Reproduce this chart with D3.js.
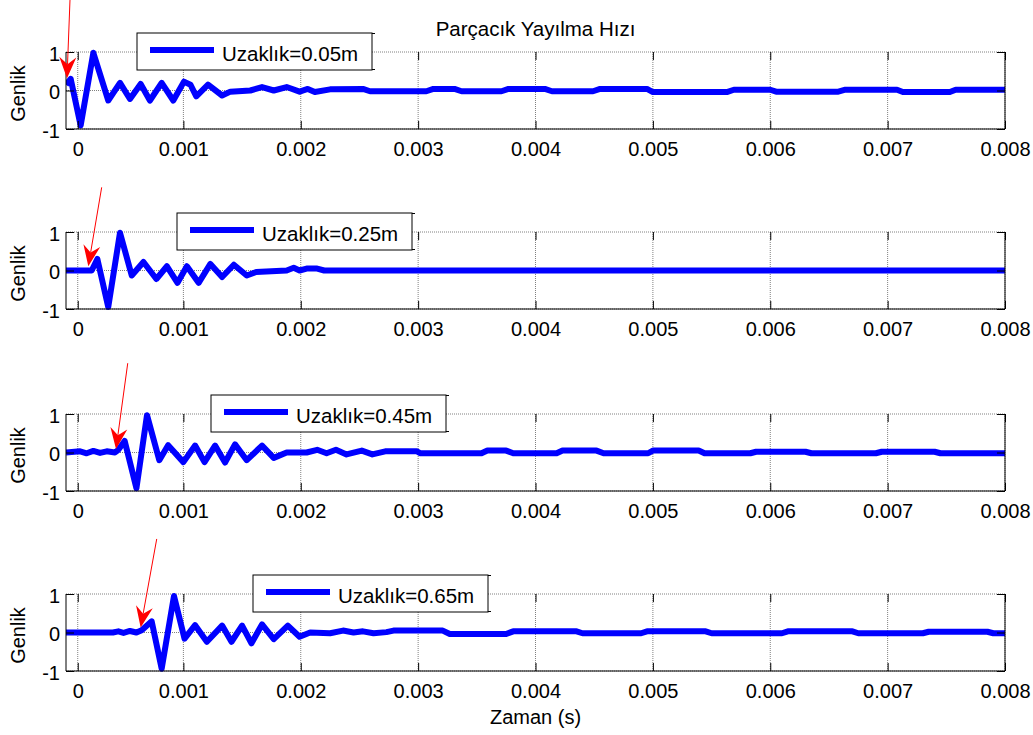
<!DOCTYPE html>
<html>
<head>
<meta charset="utf-8">
<script src="https://cdn.jsdelivr.net/npm/d3@7"></script>
<style>
body { margin: 0; background: #fff; }
text { font-family: "Liberation Sans", Arial, sans-serif; }
</style>
</head>
<body>
<div id="chart"></div>
<script>
const titleText = "Parçacık Yayılma Hızı"
const xLabelText = "Zaman (s)"
const yLabelText = "Genlik"
const distances = ["0.05", "0.25", "0.45", "0.65"]

// time in ms, amplitude normalised
const time005 = [0, 0.04, 0.125, 0.233, 0.36, 0.46, 0.545, 0.636, 0.715, 0.815, 0.914, 1.005, 1.06, 1.11, 1.21, 1.33, 1.40, 1.57, 1.67, 1.77, 1.88, 1.99, 2.06, 2.12, 2.25, 2.53, 2.59, 3.07, 3.13, 3.31, 3.37, 3.71, 3.77, 4.08, 4.14, 4.49, 4.55, 4.95, 5.0, 5.63, 5.69, 6.0, 6.05, 6.58, 6.64, 7.08, 7.13, 7.53, 7.58, 8.0]
const amp005 = [0.15, 0.30, -0.91, 0.98, -0.26, 0.20, -0.22, 0.17, -0.26, 0.20, -0.26, 0.23, 0.15, -0.15, 0.15, -0.13, -0.03, 0, 0.09, 0, 0.09, -0.03, 0.04, -0.04, 0.03, 0.04, -0.02, -0.02, 0.04, 0.04, -0.02, -0.02, 0.04, 0.04, -0.02, -0.02, 0.04, 0.04, -0.04, -0.04, 0.02, 0.02, -0.03, -0.03, 0.02, 0.02, -0.04, -0.04, 0.02, 0.02]

const time025 = [0, 0.219, 0.267, 0.36, 0.46, 0.56, 0.66, 0.77, 0.86, 0.95, 1.03, 1.13, 1.23, 1.33, 1.43, 1.54, 1.62, 1.88, 1.94, 1.99, 2.05, 2.14, 2.2, 8.0]
const amp025 = [0, 0, 0.30, -0.95, 0.98, -0.13, 0.22, -0.22, 0.11, -0.32, 0.11, -0.32, 0.17, -0.17, 0.15, -0.13, -0.04, 0, 0.07, 0, 0.05, 0.05, 0, 0]

const time045 = [0, 0.12, 0.176, 0.233, 0.29, 0.347, 0.417, 0.446, 0.50, 0.60, 0.69, 0.795, 0.87, 1.0, 1.10, 1.18, 1.27, 1.355, 1.44, 1.54, 1.67, 1.77, 1.88, 2.05, 2.14, 2.22, 2.30, 2.39, 2.52, 2.61, 2.72, 2.99, 3.02, 3.54, 3.59, 3.75, 3.81, 4.18, 4.23, 4.52, 4.58, 4.96, 5.0, 5.39, 5.44, 5.83, 5.88, 6.3, 6.35, 6.9, 6.95, 7.4, 7.45, 8.0]
const amp045 = [0, 0.03, -0.02, 0.04, -0.01, 0.03, 0, 0.07, 0.30, -0.93, 0.97, -0.2, 0.19, -0.25, 0.18, -0.25, 0.18, -0.26, 0.21, -0.2, 0.18, -0.14, 0, 0, 0.07, -0.02, 0.07, -0.05, 0.05, -0.05, 0.03, 0.03, -0.02, -0.02, 0.05, 0.05, -0.02, -0.02, 0.05, 0.05, -0.02, -0.02, 0.05, 0.05, -0.02, -0.02, 0.02, 0.02, -0.02, -0.02, 0.02, 0.02, -0.02, -0.02]

const time065 = [0, 0.40, 0.446, 0.49, 0.545, 0.60, 0.645, 0.73, 0.815, 0.92, 1.01, 1.10, 1.2, 1.33, 1.41, 1.50, 1.58, 1.67, 1.77, 1.89, 1.99, 2.08, 2.25, 2.36, 2.45, 2.53, 2.62, 2.73, 2.79, 3.21, 3.27, 3.75, 3.81, 4.35, 4.4, 4.9, 4.95, 5.45, 5.5, 6.1, 6.15, 6.7, 6.75, 7.3, 7.35, 7.85, 7.9, 8.0]
const amp065 = [0, 0, 0.03, -0.01, 0.04, 0, 0.06, 0.29, -0.94, 0.95, -0.16, 0.19, -0.24, 0.18, -0.24, 0.18, -0.28, 0.21, -0.17, 0.18, -0.11, 0, -0.02, 0.05, 0, 0.03, -0.02, 0.01, 0.05, 0.05, -0.04, -0.04, 0.03, 0.03, -0.02, -0.02, 0.03, 0.03, -0.02, -0.02, 0.03, 0.03, -0.02, -0.02, 0.02, 0.02, -0.02, -0.02]

const seriesTime = [time005, time025, time045, time065]
const seriesAmp = [amp005, amp025, amp045, amp065]

const xTickValues = [0.1, 1, 2, 3, 4, 5, 6, 7, 8]
const xTickLabels = ["0", "0.001", "0.002", "0.003", "0.004", "0.005", "0.006", "0.007", "0.008"]
const yTickValues = [-1, 0, 1]

// red arrows marking the first arrival (data units)
const arrowTipTime = [0.0085, 0.19, 0.426, 0.636]
const arrowTipAmp = [0.32, 0.11, 0.09, 0.13]
const arrowTailTime = [0.034, 0.304, 0.526, 0.773]
const arrowTailAmp = [2.35, 2.16, 2.32, 2.43]

const width = 1033
const height = 735
const plotLeft = 66
const plotRight = 1005
const panelTop = [52, 232, 414, 594]
const panelHeight = 77
const legendLeft = [137, 177, 211, 253]
const fontSize = 20

let svg = d3.select("#chart").append("svg")
    .attr("width", width)
    .attr("height", height)
    .style("background", "#fff")

let x = d3.scaleLinear()
    .domain([0, 8])
    .range([plotLeft, plotRight])

svg.append("text")
    .attr("x", (plotLeft + plotRight) / 2)
    .attr("y", 36)
    .attr("text-anchor", "middle")
    .style("font-size", "20.5px")
    .text(titleText)

function arrowHead(tx, ty, sx, sy) {
    let dx = tx - sx, dy = ty - sy
    let len = Math.hypot(dx, dy)
    let ux = dx / len, uy = dy / len
    let nx = -uy, ny = ux
    let L = 21, W = 8.5, N = 14
    return "M" + tx + "," + ty +
        "L" + (tx - ux * L + nx * W) + "," + (ty - uy * L + ny * W) +
        "L" + (tx - ux * N) + "," + (ty - uy * N) +
        "L" + (tx - ux * L - nx * W) + "," + (ty - uy * L - ny * W) + "Z"
}

distances.forEach(function (dist, p) {
    let top = panelTop[p]
    let y = d3.scaleLinear()
        .domain([-1, 1])
        .range([top + panelHeight, top])

    let g = svg.append("g")

    g.append("clipPath")
        .attr("id", "clip" + p)
        .append("rect")
        .attr("x", plotLeft)
        .attr("y", top - 4)
        .attr("width", plotRight - plotLeft)
        .attr("height", panelHeight + 8)

    // grid
    g.selectAll(".vgrid")
        .data(xTickValues)
        .enter()
        .append("line")
        .attr("x1", d => x(d))
        .attr("x2", d => x(d))
        .attr("y1", top)
        .attr("y2", top + panelHeight)
        .style("stroke", "#808080")
        .style("stroke-width", 1)
        .style("stroke-dasharray", "1,1")
    g.selectAll(".hgrid")
        .data(yTickValues)
        .enter()
        .append("line")
        .attr("x1", plotLeft)
        .attr("x2", plotRight)
        .attr("y1", d => y(d))
        .attr("y2", d => y(d))
        .style("stroke", "#808080")
        .style("stroke-width", 1)
        .style("stroke-dasharray", "1,1")

    let t = seriesTime[p], a = seriesAmp[p]
    let line = d3.line()
        .x(i => x(t[i]))
        .y(i => y(a[i]))

    g.append("path")
        .datum(d3.range(t.length))
        .attr("d", line)
        .attr("clip-path", "url(#clip" + p + ")")
        .style("fill", "none")
        .style("stroke", "#0000ff")
        .style("stroke-width", 6)
        .style("stroke-linejoin", "round")

    // box
    g.append("path")
        .attr("d", "M" + plotLeft + "," + top + "V" + (top + panelHeight) + "H" + plotRight + "V" + top)
        .style("fill", "none")
        .style("stroke", "#000")
        .style("stroke-width", 1)

    g.append("g")
        .attr("transform", "translate(0," + (top + panelHeight) + ")")
        .call(d3.axisBottom(x)
            .tickValues(xTickValues)
            .tickFormat((d, i) => xTickLabels[i])
            .tickSize(-8)
            .tickPadding(13))
    g.append("g")
        .attr("transform", "translate(0," + top + ")")
        .call(d3.axisTop(x).tickValues(xTickValues).tickFormat("").tickSize(-8))
    let yAxis = g.append("g")
        .attr("transform", "translate(" + plotLeft + ",0)")
        .call(d3.axisLeft(y)
            .tickValues(yTickValues)
            .tickFormat(d => String(d))
            .tickSize(-8)
            .tickPadding(6))
    g.append("g")
        .attr("transform", "translate(" + plotRight + ",0)")
        .call(d3.axisRight(y).tickValues(yTickValues).tickFormat("").tickSize(-8))

    g.selectAll(".domain").remove()
    g.selectAll(".tick line").style("stroke", "#000")
    g.selectAll(".tick text")
        .style("font-size", fontSize + "px")
        .style("font-family", "'Liberation Sans', Arial, sans-serif")
        .style("fill", "#000")
    yAxis.selectAll(".tick text").attr("dy", "0.4em")

    g.append("text")
        .attr("transform", "translate(25," + (top + panelHeight / 2 + 3) + ") rotate(-90)")
        .attr("text-anchor", "middle")
        .style("font-size", fontSize + "px")
        .text(yLabelText)

    // legend
    let lx = legendLeft[p], ly = top - 19
    let leg = g.append("g")
    leg.append("rect")
        .attr("x", lx)
        .attr("y", ly)
        .attr("width", 235)
        .attr("height", 37)
        .style("fill", "#fff")
        .style("stroke", "#000")
        .style("stroke-width", 1)
    leg.append("line")
        .attr("x1", lx + 235).attr("x2", lx + 238)
        .attr("y1", ly + 0.5).attr("y2", ly + 0.5)
        .style("stroke", "#000")
    leg.append("line")
        .attr("x1", lx + 235).attr("x2", lx + 238)
        .attr("y1", ly + 36.5).attr("y2", ly + 36.5)
        .style("stroke", "#000")
    leg.append("line")
        .attr("x1", lx + 13)
        .attr("x2", lx + 77)
        .attr("y1", ly + 17)
        .attr("y2", ly + 17)
        .style("stroke", "#0000ff")
        .style("stroke-width", 6)
    leg.append("text")
        .attr("x", lx + 85)
        .attr("y", ly + 28)
        .style("font-size", "20.5px")
        .text("Uzaklık=" + dist + "m")

    // arrow
    let tx = x(arrowTipTime[p]), ty = y(arrowTipAmp[p])
    let sx = x(arrowTailTime[p]), sy = y(arrowTailAmp[p])
    let dx = tx - sx, dy = ty - sy, len = Math.hypot(dx, dy)
    g.append("line")
        .attr("x1", sx)
        .attr("y1", sy)
        .attr("x2", tx - dx / len * 14)
        .attr("y2", ty - dy / len * 14)
        .style("stroke", "#ff0000")
        .style("stroke-width", 1)
    g.append("path")
        .attr("d", arrowHead(tx, ty, sx, sy))
        .style("fill", "#ff0000")
        .style("stroke", "none")
})

svg.append("text")
    .attr("x", (plotLeft + plotRight) / 2)
    .attr("y", 724)
    .attr("text-anchor", "middle")
    .style("font-size", fontSize + "px")
    .text(xLabelText)
</script>
</body>
</html>
